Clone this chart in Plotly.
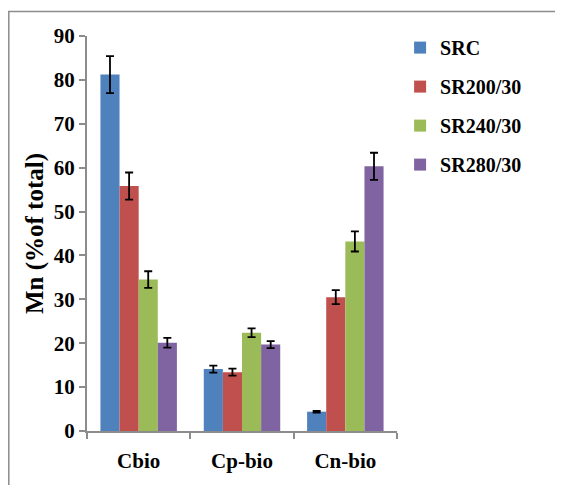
import plotly.graph_objects as go

categories = ["Cbio", "Cp-bio", "Cn-bio"]
series_names = ["SRC", "SR200/30", "SR240/30", "SR280/30"]
src = [81.2, 14.1, 4.4]
sr200 = [55.8, 13.4, 30.5]
sr240 = [34.5, 22.4, 43.2]
sr280 = [20.1, 19.7, 60.3]
src_err = [4.2, 0.8, 0.2]
sr200_err = [3.1, 0.8, 1.6]
sr240_err = [1.9, 1.0, 2.3]
sr280_err = [1.1, 0.8, 3.1]
y_ticks = [0, 10, 20, 30, 40, 50, 60, 70, 80, 90]

colors = ["#4F81BD", "#C0504D", "#9BBB59", "#8064A2"]
values = [src, sr200, sr240, sr280]
errors = [src_err, sr200_err, sr240_err, sr280_err]

# page has an 8px body margin; size the figure to fit the window
W, H = 555, 477
L, R, T, B = 79, 166, 28, 52
pw, ph = W - L - R, H - T - B

font = "Liberation Serif"

fig = go.Figure()
for name, vals, errs, col in zip(series_names, values, errors, colors):
    fig.add_trace(go.Bar(
        x=categories, y=vals, name=name, marker_color=col,
        marker_line_width=0, legendgroup=name,
        error_y=dict(type="data", array=errs, visible=True,
                     color="black", thickness=1.8, width=4),
    ))

def px_x(p):
    return (p - L) / pw

def px_y(p):
    return 1 - (p - T) / ph

fig.update_layout(
    width=W, height=H,
    margin=dict(l=L, r=R, t=T, b=B),
    paper_bgcolor="white", plot_bgcolor="white",
    barmode="group", bargap=0.26, bargroupgap=0,
    font=dict(family=font, color="black", size=21),
    showlegend=True,
    legend=dict(x=1.01, y=1.02, xanchor="left", yanchor="top",
                font=dict(family=font, size=20, color="black", weight="bold"),
                tracegroupgap=10, bgcolor="rgba(0,0,0,0)"),
    xaxis=dict(
        showline=True, linecolor="#8c8c8c", linewidth=2,
        ticks="outside", tickson="boundaries", ticklen=6, tickwidth=1.5,
        tickcolor="#8c8c8c", ticklabelstandoff=10,
        tickfont=dict(family=font, size=21, color="black", weight="bold"),
        showgrid=False, zeroline=False,
    ),
    yaxis=dict(
        range=[0, 90], tickvals=y_ticks,
        showline=True, linecolor="#8c8c8c", linewidth=2,
        ticks="outside", ticklen=6, tickwidth=1.5, tickcolor="#8c8c8c",
        tickfont=dict(family=font, size=21, color="black", weight="bold"),
        showgrid=False, zeroline=False,
        title=dict(text="Mn (%of total)", standoff=3,
                   font=dict(family=font, size=25, color="black", weight="bold")),
    ),
    shapes=[dict(type="rect", xref="paper", yref="paper",
                 x0=px_x(0.8), x1=px_x(W + 10), y0=px_y(H + 10), y1=px_y(3.5),
                 line=dict(color="#8c8c8c", width=1.5), fillcolor="rgba(0,0,0,0)",
                 layer="below")],
)

fig.write_html("out.html")
